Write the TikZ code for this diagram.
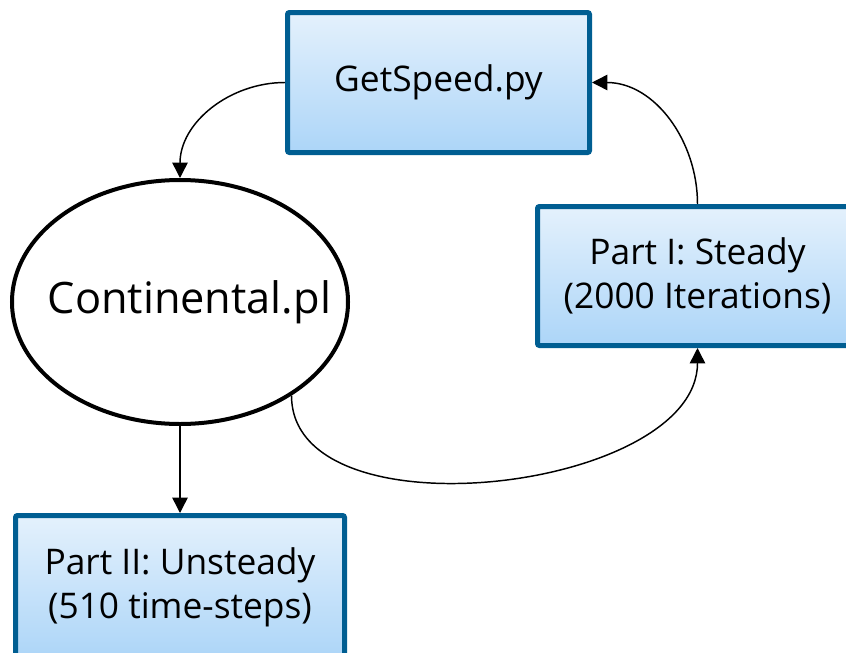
\documentclass[tikz,border=0pt]{standalone}
\usepackage{fontspec}
\setmainfont{Open Sans}
\usetikzlibrary{arrows.meta,shapes.geometric}
\definecolor{boxline}{RGB}{0,94,146}
\definecolor{boxtop}{RGB}{228,241,252}
\definecolor{boxbottom}{RGB}{172,213,248}
\begin{document}
\begin{tikzpicture}[
		x=0.75pt, y=-0.75pt,
		stage/.style={rectangle, draw=boxline, line width=3.75pt, rounded corners=1.5pt,
				top color=boxtop, bottom color=boxbottom, align=center,
				font=\fontsize{26.5}{33}\selectfont, minimum height=105pt},
		script/.style={ellipse, draw, line width=3pt, inner sep=0pt,
				minimum width=252pt, minimum height=183pt, font=\fontsize{32.5}{38}\selectfont},
		link/.style={-{Triangle[length=11.5pt,width=11.5pt]}, line width=1.1pt}
	]
	\clip (0,0) rectangle (846,653);
	\useasboundingbox (0,0) rectangle (846,653);

	\node[stage, minimum width=226.5pt] (get) at (438.5,82.5) {GetSpeed.py};
	\node[stage, minimum width=240pt, minimum height=104.25pt] (steady) at (697.5,276)
		{Part I: Steady\\(2000 Iterations)};
	\node[stage, minimum width=246.75pt, minimum height=108pt] (unsteady) at (180,587.5)
		{Part II: Unsteady\\(510 time-steps)};
	\node[script] (cont) at (180,302) {\makebox[0pt]{\hspace{14pt}Continental.pl}};

	\draw[link] (get.west) to[out=180, in=90] (cont.north);
	\draw[link] (cont.south) -- (unsteady.north);
	\draw[link] (cont.-40) to[out=-90, in=-90, looseness=0.9] (steady.south);
	\draw[link] (steady.north) to[out=90, in=0] (get.east);
\end{tikzpicture}
\end{document}
